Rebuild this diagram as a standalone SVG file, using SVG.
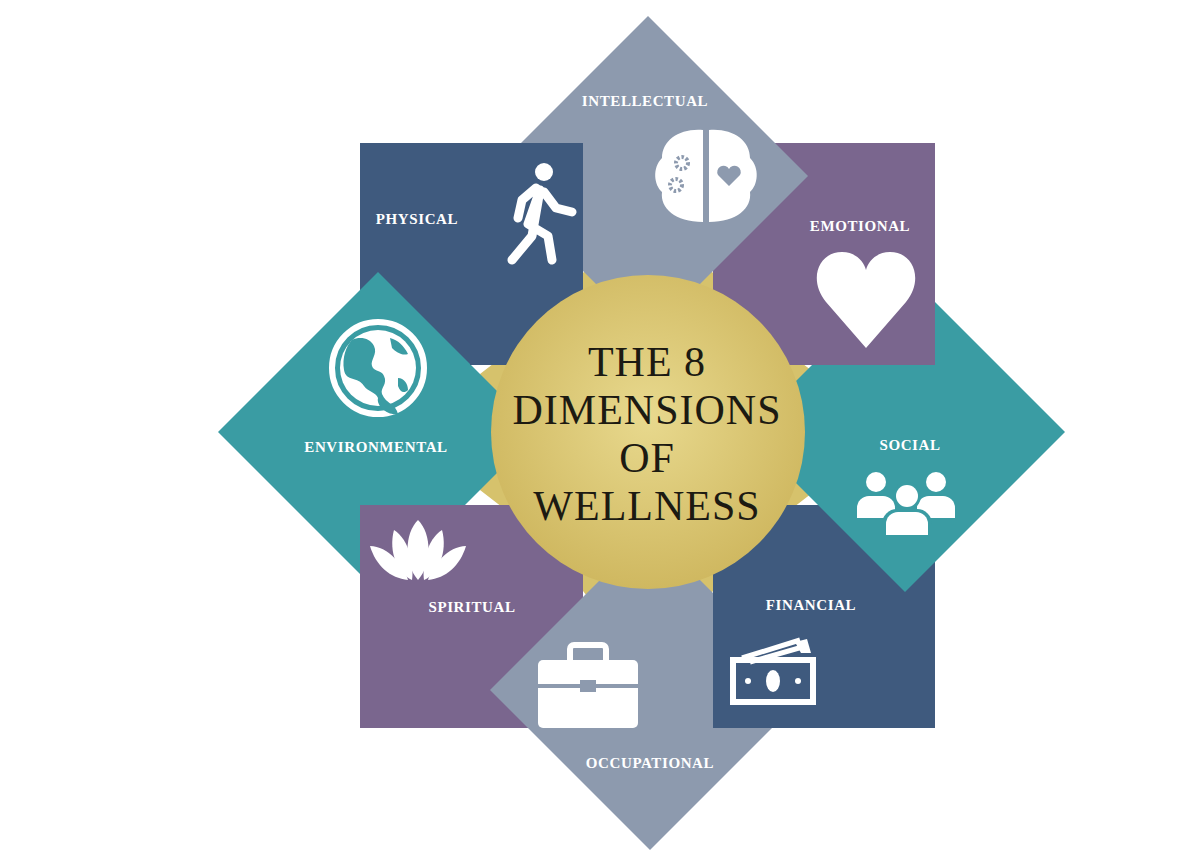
<svg xmlns="http://www.w3.org/2000/svg" width="1200" height="852" viewBox="0 0 1200 852">
<style>
.lbl{font-family:"Liberation Serif",serif;font-weight:bold;font-size:15px;fill:#fff;text-anchor:middle;letter-spacing:0.6px}
.ttl{font-family:"Liberation Serif",serif;font-size:42px;fill:#1c1a12;text-anchor:middle;letter-spacing:1px}
.w{fill:#fff}
</style>
<defs>
<radialGradient id="gold" cx="50%" cy="45%" r="60%">
<stop offset="0" stop-color="#e8d98e"/><stop offset="1" stop-color="#cdb55c"/>
</radialGradient>
<clipPath id="physRight"><rect x="470" y="140" width="120" height="230"/></clipPath>
</defs>
<rect width="1200" height="852" fill="#fff"/>
<g id="star"><polygon fill="#d6c26c" points="706,264 754,326 816,374 798,432 816,490 754,538 706,600 648,582 590,600 542,538 480,490 498,432 480,374 542,326 590,264 648,282"/></g>
<g id="physical"><rect fill="#3f5a7e" x="360" y="143" width="223" height="222"/>
<text class="lbl" x="417" y="224">PHYSICAL</text>
</g>
<g id="environmental"><polygon fill="#3a9ca3" points="378,272 538,432 378,592 218,432"/>
<text class="lbl" x="376" y="452">ENVIRONMENTAL</text>
<circle cx="378" cy="368" r="46" fill="none" stroke="#fff" stroke-width="6"/>
<circle cx="378" cy="368" r="38" fill="#fff"/>
<path fill="#3a9ca3" d="M352,340 c8,-4 18,-2 22,6 c4,8 -4,14 -2,20 c2,6 10,4 12,10 c4,8 -4,12 -2,18 c4,10 14,10 16,20 c-10,2 -22,-8 -20,-16 c-2,-6 -10,-6 -14,-12 c-6,-10 -18,-4 -20,-16 c-2,-12 2,-24 8,-30 Z M390,338 c8,2 14,8 18,16 c-6,2 -12,-2 -16,-6 Z M398,378 c6,0 10,6 10,12 c-4,4 -8,2 -10,-4 Z"/>
</g>
<g id="spiritual"><rect fill="#7a668e" x="360" y="505" width="223" height="223"/>
<text class="lbl" x="472" y="612">SPIRITUAL</text>
<path class="w" d="M418,520 C432,534 432,564 418,580 C404,564 404,534 418,520 Z"/>
<path class="w" d="M394,530 C410,540 414,566 412,580 C398,574 388,552 394,530 Z"/>
<path class="w" d="M442,530 C426,540 422,566 424,580 C438,574 448,552 442,530 Z"/>
<path class="w" d="M370,546 C388,546 404,566 408,580 C390,578 376,566 370,546 Z"/>
<path class="w" d="M466,546 C448,546 432,566 428,580 C446,578 460,566 466,546 Z"/>
</g>
<g id="occupational"><polygon fill="#8d9aae" points="650,530 810,690 650,850 490,690"/>
<text class="lbl" x="650" y="768">OCCUPATIONAL</text>
<rect x="570" y="645" width="36" height="20" rx="4" fill="none" stroke="#fff" stroke-width="6"/>
<rect class="w" x="538" y="660" width="100" height="68" rx="5"/>
<rect x="538" y="684" width="100" height="4" fill="#8d9aae"/>
<rect x="580" y="680" width="16" height="12" fill="#8d9aae"/>
</g>
<g id="financial"><rect fill="#3f5a7e" x="713" y="505" width="222" height="223"/>
<text class="lbl" x="811" y="610">FINANCIAL</text>
<path d="M742,658 L800,640 M750,662 L806,646" stroke="#fff" stroke-width="5"/>
<path class="w" d="M795,642 l12,-3 l4,14 l-10,0 Z"/>
<rect x="733" y="660" width="80" height="42" fill="none" stroke="#fff" stroke-width="6"/>
<ellipse class="w" cx="773" cy="681" rx="7" ry="11"/>
<circle class="w" cx="748" cy="681" r="3"/><circle class="w" cx="798" cy="681" r="3"/>
</g>
<g id="social"><polygon fill="#3a9ca3" points="905,272 1065,432 905,592 745,432"/>
<text class="lbl" x="910" y="450">SOCIAL</text>
<circle class="w" cx="876" cy="482" r="10"/><path class="w" d="M857,518 v-10 a12,12 0 0 1 12,-12 h14 a12,12 0 0 1 12,12 v10 Z"/>
<circle class="w" cx="936" cy="482" r="10"/><path class="w" d="M917,518 v-10 a12,12 0 0 1 12,-12 h14 a12,12 0 0 1 12,12 v10 Z"/>
<circle fill="#3a9ca3" cx="907" cy="496" r="14"/><circle class="w" cx="907" cy="496" r="11"/>
<path fill="#3a9ca3" d="M882,538 v-14 a15,15 0 0 1 15,-15 h20 a15,15 0 0 1 15,15 v14 Z"/>
<path class="w" d="M886,535 v-11 a12,12 0 0 1 12,-12 h18 a12,12 0 0 1 12,12 v11 Z"/>
</g>
<g id="emotional"><rect fill="#7a668e" x="713" y="143" width="222" height="222"/>
<text class="lbl" x="860" y="231">EMOTIONAL</text>
<path class="w" d="M866,348 L826,302 C808,280 818,252 842,252 C856,252 864,262 866,270 C868,262 876,252 890,252 C914,252 924,280 906,302 Z"/>
</g>
<g id="intellectual"><polygon fill="#8d9aae" points="648,16 808,176 648,336 488,176"/>
<text class="lbl" x="645" y="106">INTELLECTUAL</text>
<path class="w" d="M703,130 C680,128 662,140 662,158 C652,168 654,185 662,192 C660,208 675,222 703,222 Z"/>
<path class="w" d="M709,130 C732,128 750,140 750,158 C760,168 758,185 750,192 C752,208 737,222 709,222 Z"/>
<circle cx="682" cy="163" r="6" fill="none" stroke="#8d9aae" stroke-width="4" stroke-dasharray="2.5 2"/>
<circle cx="676" cy="185" r="6" fill="none" stroke="#8d9aae" stroke-width="4" stroke-dasharray="2.5 2"/>
<path fill="#8d9aae" d="M729,186 L718,175 a6,6 0 0 1 11,-6 a6,6 0 0 1 11,6 Z"/>
</g>
<g id="physical-top" clip-path="url(#physRight)"><rect fill="#3f5a7e" x="360" y="143" width="223" height="222"/>
<circle class="w" cx="544" cy="172" r="9"/>
<path d="M540,190 L528,224 L548,236 L552,260 M540,190 L532,236 L512,260 M536,188 L522,200 L518,218 M544,192 L556,208 L572,212" fill="none" stroke="#fff" stroke-width="9" stroke-linecap="round" stroke-linejoin="round"/>
</g>
<g id="center"><circle cx="648" cy="432" r="157" fill="url(#gold)"/>
<text class="ttl" x="647" y="376">THE 8</text>
<text class="ttl" x="647" y="424">DIMENSIONS</text>
<text class="ttl" x="647" y="472">OF</text>
<text class="ttl" x="647" y="520">WELLNESS</text>
</g>
<g id="connectors"/>
</svg>
